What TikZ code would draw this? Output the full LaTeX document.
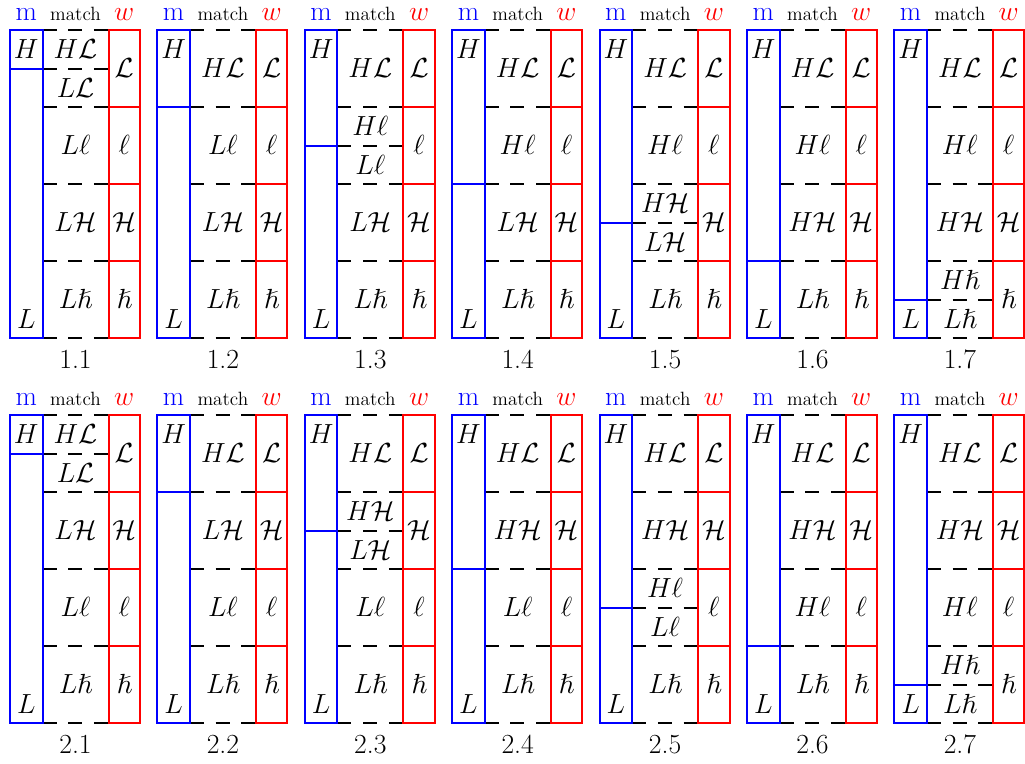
\documentclass[tikz,border=0pt]{standalone}
\usepackage{amssymb}
\definecolor{mblue}{RGB}{0,0,255}
\definecolor{wred}{RGB}{255,0,0}
\tikzset{
  mline/.style={draw=mblue, line width=1.5pt},
  wline/.style={draw=wred, line width=1.5pt},
  sepline/.style={draw=black, line width=1.5pt, dash pattern=on 10.5pt off 8.8pt},
  cell/.style={inner sep=0pt, text height=14.2pt, text depth=0pt, font=\huge},
  head/.style={inner sep=0pt, anchor=base},
}
% One panel: #1 = group (row of panels), #2 = split index (1..7), #3 = row symbols
\newcommand\drawpanel[3]{%
  \pgfmathsetmacro\px{10+(#2-1)*147.4}%
  \pgfmathsetmacro\py{30+(#1-1)*385}%
  \begin{scope}[shift={(\px,\py)}]
    % dashed separators of the match column
    \foreach \yy in {0,77,154,231,308}
      \draw[sepline] (32.5,\yy) -- (98.5,\yy);
    \ifodd#2 \draw[sepline] (32.5,#2*38.5) -- (98.5,#2*38.5);\fi
    % m column with its H/L threshold
    \draw[mline] (0,0) rectangle (32.5,308);
    \draw[mline] (0,#2*38.5) -- (32.5,#2*38.5);
    % w column
    \draw[wline] (98.5,0) rectangle (130,308);
    \foreach \yy in {77,154,231}
      \draw[wline] (98.5,\yy) -- (130,\yy);
    % headers and caption
    \node[head, text=mblue, font=\huge] (m#1#2) at (16.25,-9.5) {$\mathrm{m}$};
    \node[head, font=\Large] (t#1#2) at (65.5,-9.5) {match};
    \node[head, text=wred, font=\huge] (w#1#2) at (114.25,-9.5) {$w$};
    \node[head, font=\huge] (c#1#2) at (65.5,338.5) {#1.#2};
    % m labels
    \node[cell] (mh#1#2) at (16.25,19) {$H$};
    \node[cell] (ml#1#2) at (16.25,289) {$L$};
    % rows
    \foreach \s [count=\r] in {#3} {
      \pgfmathsetmacro\yc{77*(\r-1)+38.5}
      \node[cell] (ws#1#2\r) at (114.25,\yc) {$\s$};
      \ifnum\numexpr2*\r\relax>#2
        \ifnum\numexpr2*\r-1\relax=#2
          \node[cell] (hs#1#2\r) at (65.5,\yc-19.25) {$H\s$};
          \node[cell] (ls#1#2\r) at (65.5,\yc+19.25) {$L\s$};
        \else
          \node[cell] (ls#1#2\r) at (65.5,\yc) {$L\s$};
        \fi
      \else
        \node[cell] (hs#1#2\r) at (65.5,\yc) {$H\s$};
      \fi
    }
  \end{scope}}
\begin{document}
\begin{tikzpicture}[x=0.75pt, y=-0.75pt]
  \useasboundingbox (0,0) rectangle (1025,764);
  \foreach \k in {1,...,7} {
    \drawpanel{1}{\k}{\mathcal{L},\ell,\mathcal{H},\hslash}
    \drawpanel{2}{\k}{\mathcal{L},\mathcal{H},\ell,\hslash}
  }
\end{tikzpicture}
\end{document}
